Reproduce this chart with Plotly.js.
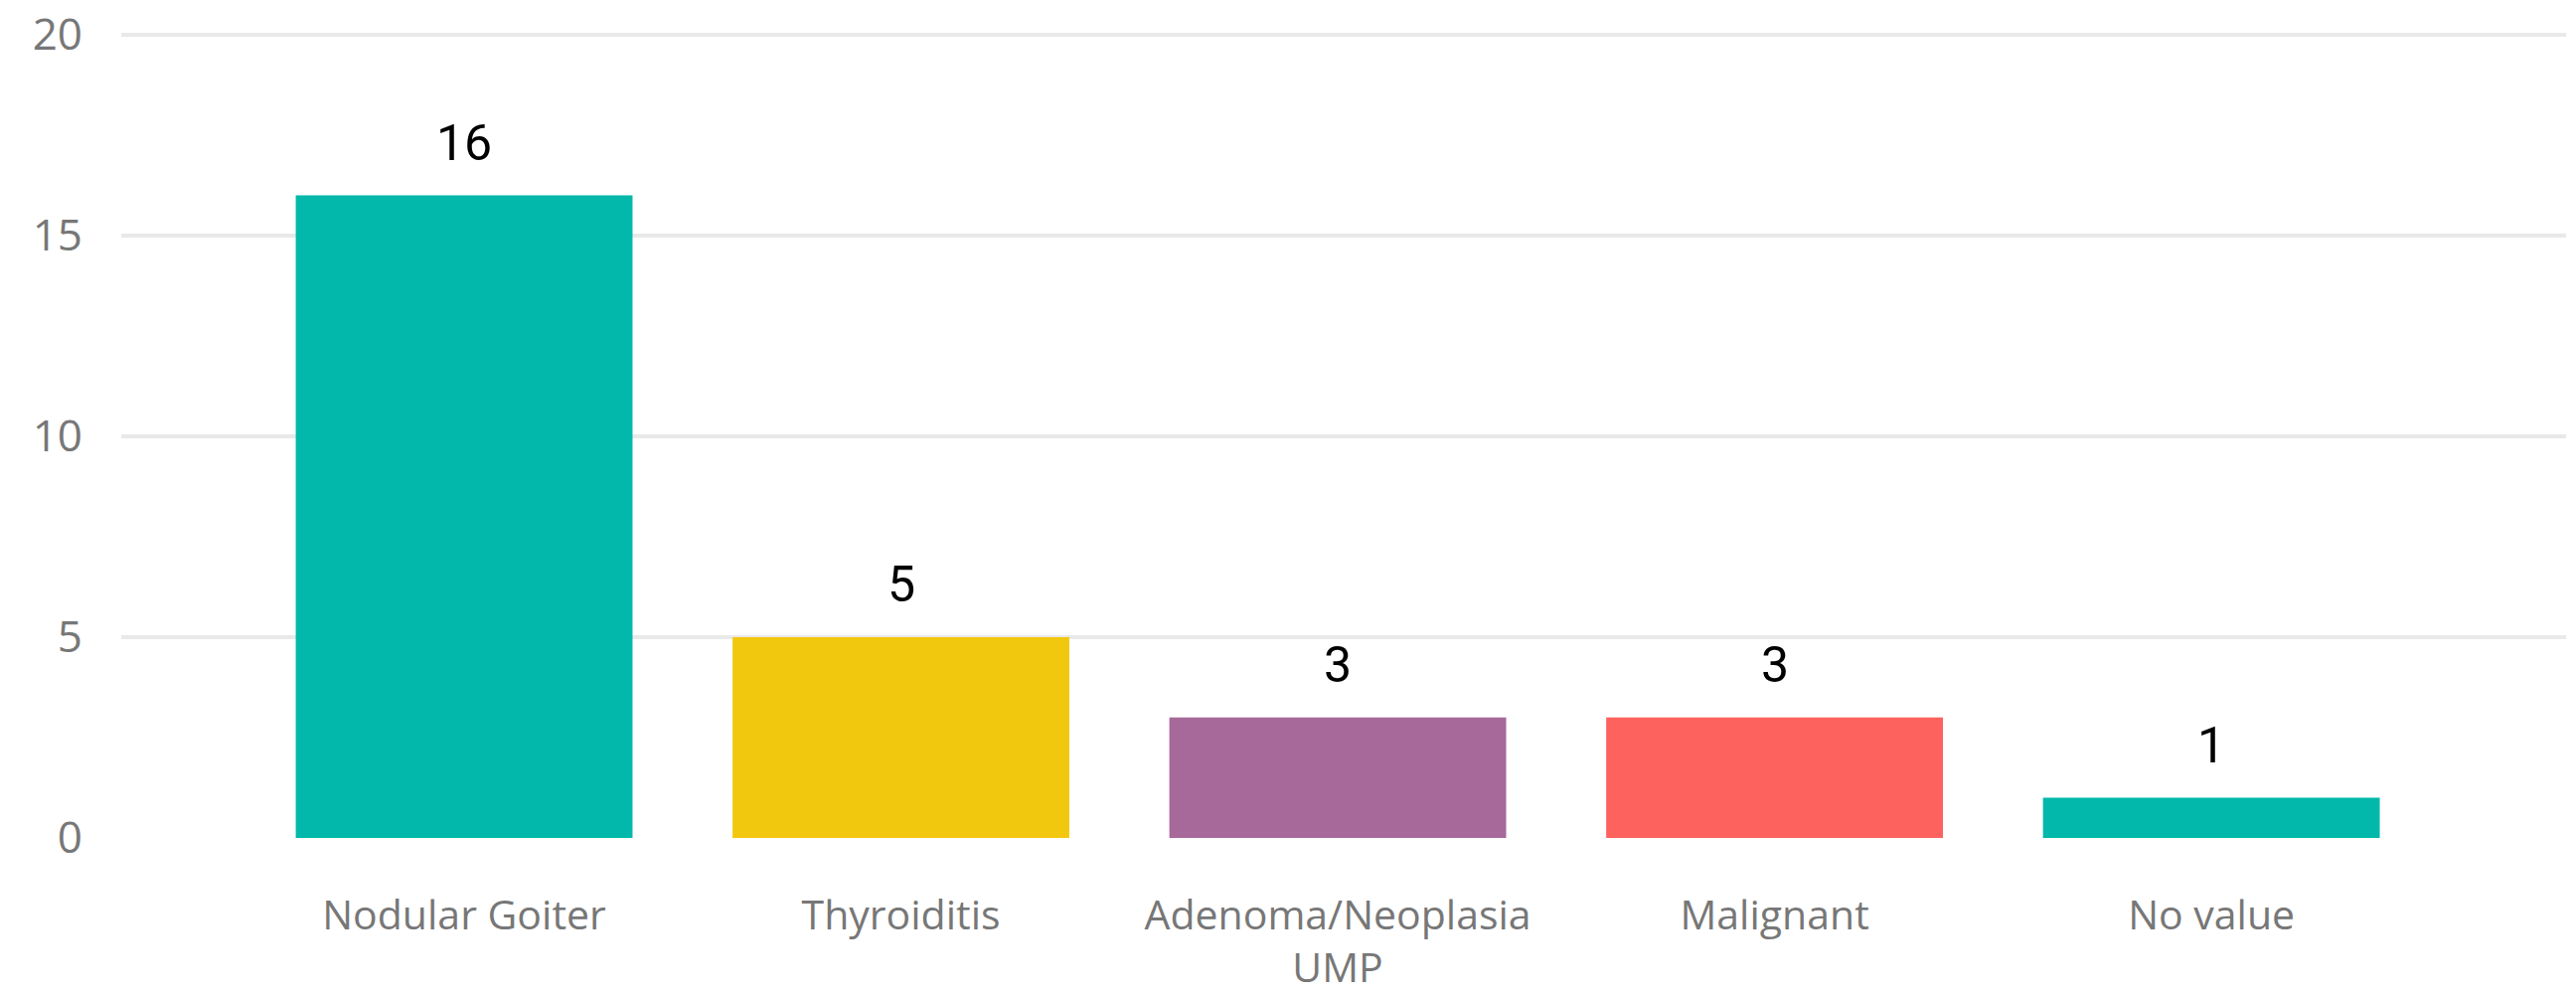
<!DOCTYPE html>
<html>
<head>
<meta charset="utf-8">
<script src="https://cdn.plot.ly/plotly-3.0.1.min.js"></script>
<style>
html,body{margin:0;padding:0;background:#fff;}
#chart{width:2592px;height:1002px;}
</style>
</head>
<body>
<div id="chart"></div>
<script>
const categories = ["Nodular Goiter", "Thyroiditis", "Adenoma/Neoplasia<br>UMP", "Malignant", "No value"];
const counts = [16, 5, 3, 3, 1];
const barColors = ["#01B8AA", "#F2C80F", "#A66999", "#FD625E", "#01B8AA"];
const yTicks = [0, 5, 10, 15, 20];

const trace = {
  type: "bar",
  x: categories,
  y: counts,
  marker: {color: barColors},
  hoverinfo: "none",
  showlegend: false
};

const annotations = categories.map((c, i) => ({
  x: c, y: counts[i], xref: "x", yref: "y",
  text: String(counts[i]),
  showarrow: false,
  yanchor: "bottom",
  yshift: 22,
  font: {family: "Roboto, sans-serif", size: 50, color: "#000000"}
}));

const layout = {
  width: 2592, height: 1002,
  margin: {l: 122, r: 10, t: 33, b: 159},
  paper_bgcolor: "#ffffff",
  plot_bgcolor: "#ffffff",
  bargap: 0.229,
  font: {family: "Open Sans, sans-serif", color: "#777777"},
  xaxis: {
    type: "category",
    range: [-0.785, 4.812],
    showgrid: false,
    showline: false,
    zeroline: false,
    ticks: "",
    ticklabelstandoff: 50,
    tickfont: {family: "Open Sans, sans-serif", size: 41, color: "#777777"}
  },
  yaxis: {
    range: [0, 20.05],
    tickvals: yTicks,
    showgrid: true,
    gridcolor: "#e9e9e9",
    gridwidth: 4,
    zeroline: false,
    showline: false,
    ticks: "",
    ticklabelstandoff: 38,
    tickfont: {family: "Open Sans, sans-serif", size: 44, color: "#777777"}
  },
  annotations: annotations
};

Plotly.newPlot("chart", [trace], layout, {displayModeBar: false, staticPlot: true});
</script>
</body>
</html>
